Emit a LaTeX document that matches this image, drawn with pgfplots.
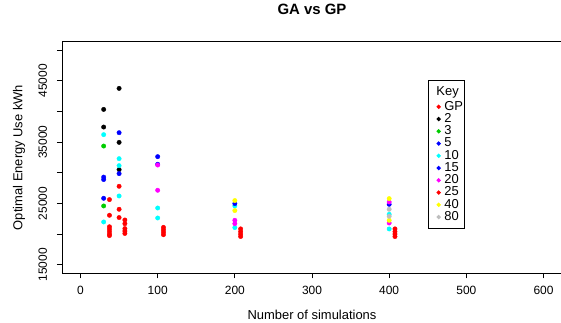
\documentclass[border=0pt]{standalone}
\usepackage{fontspec}
\setmainfont{Liberation Sans}
\usepackage{pgfplots}
\pgfplotsset{compat=1.18}
\definecolor{rred}{RGB}{255,0,0}
\definecolor{rgreen}{RGB}{0,205,0}
\definecolor{rblue}{RGB}{0,0,255}
\definecolor{rcyan}{RGB}{0,255,255}
\definecolor{rmagenta}{RGB}{255,0,255}
\definecolor{ryellow}{RGB}{255,255,0}
\definecolor{rgray}{RGB}{190,190,190}
\begin{document}
\begin{tikzpicture}
\useasboundingbox (0,0) rectangle (561bp,323bp);
\begin{axis}[
  at={(62bp,49.7bp)}, anchor=south west,
  scale only axis, width=500bp, height=231.6bp,
  xmin=-24, xmax=624, ymin=13600, ymax=51400,
  scaled ticks=false,
  axis line style={draw=black, line width=1bp},
  tick style={line width=1bp, black},
  tick align=outside, major tick length=5bp,
  xtick pos=bottom, ytick pos=left,
  xtick={0,100,...,600},
  xticklabels={0,100,200,300,400,500,600},
  ytick={15000,20000,...,50000},
  yticklabels={15000,,25000,,35000,,45000,},
  ticklabel style={font=\fontsize{12}{12}\selectfont},
  xticklabel style={anchor=north, inner sep=0pt},
  xticklabel shift=8bp,
  yticklabel style={rotate=90, anchor=south, inner sep=0pt},
  yticklabel shift=9.7bp,
  xlabel={Number of simulations},
  ylabel={Optimal Energy Use kWh},
  label style={font=\fontsize{13}{13}\selectfont},
  xlabel style={at={(axis description cs:0.5,-0.180)}, anchor=center},
  ylabel style={at={(axis description cs:-0.086,0.5)}, anchor=center, rotate=0},
  title={\bfseries GA vs GP},
  title style={at={(axis description cs:0.5,1.1153)}, anchor=center, font=\fontsize{15}{15}\selectfont},
  only marks,
  every axis plot/.append style={mark=*, mark size=2.2bp},
  legend image code/.code={\path (-8.4bp,0bp); \draw[#1, mark size=1.6bp] plot coordinates {(0bp,0bp)}; \path (5.2bp,0bp);},
  legend cell align=left,
  legend style={at={(rel axis cs:0.7326,0.8346)}, anchor=north west,
    draw=black, line width=1bp, inner xsep=1bp, inner ysep=5.3bp, row sep=0pt,
    font=\fontsize{13}{13}\selectfont,
    nodes={inner sep=0pt, text height=9.5bp, text depth=2.75bp}},
]
\addlegendimage{empty legend}
\addlegendentry[text depth=5.35bp]{\hspace*{-8bp}Key}
% GP
\addplot[rred, mark options={fill=rred, draw=rred}] coordinates {
 (37.5,25630) (37.5,23070) (37.5,21200) (37.5,20800) (37.5,20400) (37.5,20000) (37.5,19750)
 (57.5,22300) (57.5,21700) (57.5,20900) (57.5,20500) (57.5,20100)
 (107.5,21100) (107.5,20700) (107.5,20300) (107.5,19900)
 (207.5,20850) (207.5,20400) (207.5,20000) (207.5,19600)
 (407.5,20850) (407.5,20400) (407.5,20000) (407.5,19600)
};
\addlegendentry{GP}
% 2
\addplot[black, mark options={fill=black, draw=black}] coordinates {
 (30,40350) (30,37470) (50,43780) (50,34970) (50,30520)
};
\addlegendentry{2}
% 3
\addplot[rgreen, mark options={fill=rgreen, draw=rgreen}] coordinates {
 (30,34370) (30,24590)
};
\addlegendentry{3}
% 5
\addplot[rblue, mark options={fill=rblue, draw=rblue}] coordinates {
 (30,29300) (30,28900) (30,25840) (50,36550) (50,29870)
};
\addlegendentry{5}
% 10
\addplot[rcyan, mark options={fill=rcyan, draw=rcyan}] coordinates {
 (30,36230) (30,21980) (50,32310) (50,31170) (50,26220)
 (100,24260) (100,22630) (200,24600) (200,21060) (400,23230) (400,20840)
};
\addlegendentry{10}
% 15
\addplot[rblue, mark options={fill=rblue, draw=rblue}] coordinates {
 (100,32640) (100,31400) (200,24980) (400,24860)
};
\addlegendentry{15}
% 20
\addplot[rmagenta, mark options={fill=rmagenta, draw=rmagenta}] coordinates {
 (100,31270) (100,27150) (200,22250) (200,21700) (400,25240) (400,21810)
};
\addlegendentry{20}
% 25
\addplot[rred, mark options={fill=rred, draw=rred}] coordinates {
 (50,27800) (50,24050) (50,22700)
};
\addlegendentry{25}
% 40
\addplot[ryellow, mark options={fill=ryellow, draw=ryellow}] coordinates {
 (200,25470) (200,23840) (400,25790) (400,22250)
};
\addlegendentry{40}
% 80
\addplot[rgray, mark options={fill=rgray, draw=rgray}] coordinates {
 (400,24050) (400,22910)
};
\addlegendentry{80}
\end{axis}
\end{tikzpicture}
\end{document}
